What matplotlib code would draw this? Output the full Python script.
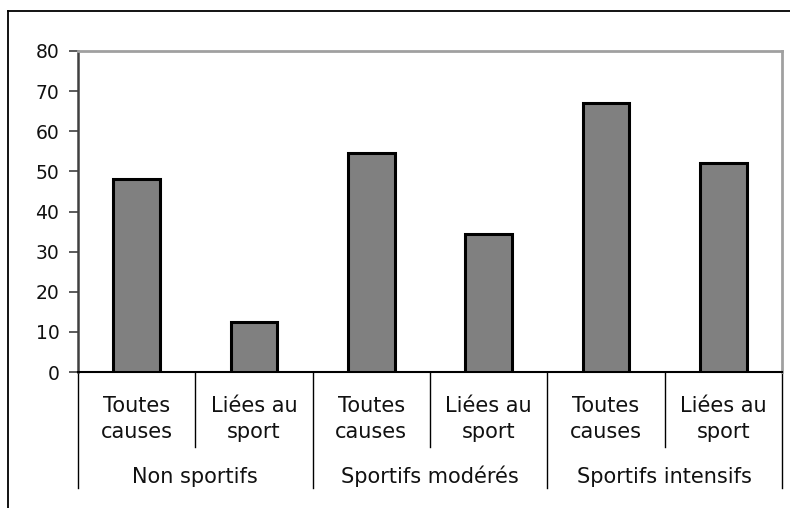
import matplotlib.pyplot as plt
from matplotlib.lines import Line2D

# Data
groups = ["Non sportifs", "Sportifs modérés", "Sportifs intensifs"]
sub_labels = [("Toutes", "causes"), ("Liées au", "sport")]
values = [48, 12.5, 54.5, 34.5, 67, 52]
y_ticks = [0, 10, 20, 30, 40, 50, 60, 70, 80]

W, H = 790, 508
fig = plt.figure(figsize=(W / 100, H / 100), dpi=100)
plt.rcParams['font.family'] = ['DejaVu Sans']

# plot area in pixels: left 78, right 782, top 51, bottom 372
ax = fig.add_axes([78 / W, 1 - 372 / H, (782 - 78) / W, (372 - 51) / H])

n = len(values)
xs = list(range(n))
ax.bar(xs, values, width=0.4, color="#808080", edgecolor="black", linewidth=2.2, zorder=3)

ax.set_xlim(-0.5, n - 0.5)
ax.set_ylim(0, 80)
ax.set_yticks(y_ticks)
ax.tick_params(axis="y", length=6.5, width=1.2, color="#404040", labelsize=13.5, pad=7,
               labelcolor="#111111")
ax.set_xticks([])

for s in ["top", "right"]:
    ax.spines[s].set_color("#a0a0a0")
    ax.spines[s].set_linewidth(2)
ax.spines["left"].set_color("#404040")
ax.spines["left"].set_linewidth(1.8)
ax.spines["bottom"].set_color("black")
ax.spines["bottom"].set_linewidth(1.5)

tr = ax.get_xaxis_transform()
ph = 372 - 51

def yfrac(py):
    return (372 - py) / ph

# sub-category labels and dividers
for i in range(n):
    top, bot = sub_labels[i % 2]
    ax.text(i, yfrac(412), top, transform=tr, ha="center", va="baseline",
            fontsize=15, clip_on=False, color="#111111")
    ax.text(i, yfrac(438), bot, transform=tr, ha="center", va="baseline",
            fontsize=15, clip_on=False, color="#111111")
for i in range(n + 1):
    x = i - 0.5
    bottom = yfrac(488) if i % 2 == 0 else yfrac(447)
    ax.plot([x, x], [0, bottom], transform=tr, color="black", lw=1, clip_on=False)

# group labels
for g, name in enumerate(groups):
    ax.text(2 * g + 0.5, yfrac(483), name, transform=tr, ha="center", va="baseline",
            fontsize=15, clip_on=False, color="#111111")

# outer frame (partially visible)
fig.add_artist(Line2D([8 / W, 8 / W], [0, 1 - 11 / H], transform=fig.transFigure,
                      color="black", lw=1.3))
fig.add_artist(Line2D([8 / W, 1], [1 - 11 / H, 1 - 11 / H], transform=fig.transFigure,
                      color="black", lw=1.3))

fig.savefig("out.png", dpi=100)
